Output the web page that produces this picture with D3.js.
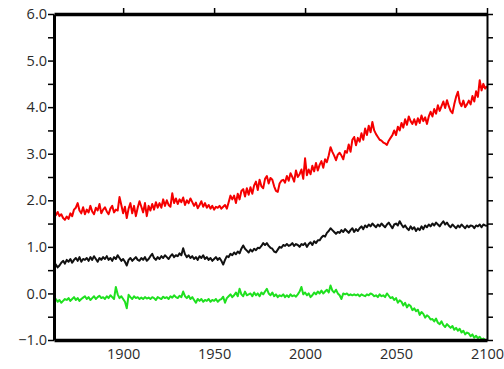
<!DOCTYPE html>
<html>
<head>
<meta charset="utf-8">
<script src="https://cdn.jsdelivr.net/npm/d3@7"></script>
<style>
  body { margin: 0; background: #fff; }
  svg { display: block; }
  .axis text { font-family: "Open Sans", sans-serif; font-size: 14.5px; fill: #2a2a2a; }
</style>
</head>
<body>
<svg id="chart"></svg>
<script>
"use strict"

// years 1862..2100, one value per year
const startYear = 1862
const endYear = 2100

const redSeries = [
  1.72,1.68,1.75,1.66,1.70,1.62,1.58,1.65,
  1.60,1.72,1.66,1.80,1.84,1.94,1.78,1.72,1.85,1.70,
  1.80,1.74,1.88,1.76,1.70,1.84,1.78,1.92,1.72,1.80,
  1.85,1.76,1.70,1.82,1.88,1.74,1.80,1.78,2.07,1.90,
  1.72,1.86,1.62,1.82,1.94,1.72,1.88,1.66,1.84,1.98,
  1.86,1.74,1.94,1.66,1.88,1.78,1.92,1.80,1.96,1.84,
  1.94,1.84,2.02,1.88,2.00,1.90,1.86,2.15,1.94,2.04,
  1.92,2.02,1.96,2.06,1.90,2.00,1.94,2.04,1.96,1.88,
  1.95,1.83,1.90,1.98,1.86,1.94,1.84,1.90,1.82,1.88,
  1.80,1.86,1.84,1.88,1.82,1.86,1.90,1.82,1.96,2.10,
  2.02,2.10,1.94,2.14,2.02,2.20,2.24,2.08,2.26,2.12,
  2.28,2.14,2.32,2.40,2.22,2.44,2.30,2.26,2.46,2.52,
  2.36,2.48,2.44,2.30,2.20,2.18,2.36,2.42,2.44,2.38,
  2.52,2.42,2.58,2.50,2.40,2.64,2.50,2.56,2.66,2.46,
  2.90,2.54,2.66,2.56,2.74,2.62,2.80,2.64,2.76,2.84,
  2.70,2.88,2.82,2.96,3.14,3.04,2.96,2.86,2.98,3.02,
  2.96,2.88,3.06,3.02,3.20,3.04,3.30,3.36,3.18,3.34,
  3.26,3.44,3.30,3.54,3.40,3.60,3.46,3.68,3.50,3.42,
  3.36,3.30,3.28,3.24,3.22,3.19,3.28,3.34,3.40,3.50,
  3.40,3.58,3.50,3.66,3.56,3.74,3.62,3.80,3.70,3.64,
  3.74,3.62,3.76,3.66,3.82,3.70,3.78,3.64,3.80,3.90,
  3.80,3.96,3.86,4.04,3.92,4.02,4.12,3.98,4.15,4.02,
  3.92,3.87,4.06,4.22,4.33,4.10,4.02,4.14,4.00,4.06,
  4.14,4.06,4.24,4.12,4.34,4.22,4.58,4.36,4.50,4.40,
  4.45
]

const blackSeries = [
  0.67,0.62,0.56,0.60,0.66,0.70,0.64,0.72,
  0.68,0.74,0.66,0.72,0.76,0.70,0.78,0.68,0.74,0.72,
  0.76,0.70,0.78,0.72,0.80,0.74,0.68,0.76,0.72,0.78,
  0.74,0.80,0.72,0.76,0.70,0.78,0.74,0.82,0.76,0.70,
  0.74,0.68,0.60,0.72,0.76,0.70,0.74,0.78,0.72,0.70,
  0.76,0.72,0.78,0.70,0.74,0.80,0.85,0.76,0.72,0.78,
  0.74,0.80,0.76,0.82,0.78,0.74,0.80,0.84,0.78,0.82,
  0.80,0.86,0.82,0.97,0.84,0.78,0.82,0.76,0.80,0.74,
  0.78,0.72,0.80,0.76,0.82,0.74,0.78,0.72,0.76,0.70,
  0.74,0.78,0.72,0.76,0.70,0.62,0.72,0.80,0.78,0.85,
  0.82,0.88,0.84,0.90,0.86,0.96,1.03,0.96,0.92,0.88,
  0.94,0.90,0.96,0.93,0.98,0.97,1.02,1.08,1.04,1.08,
  1.02,0.98,0.96,0.90,0.88,0.94,1.00,0.98,1.04,1.02,
  1.06,1.02,1.04,1.08,1.02,1.06,1.04,1.00,1.06,1.04,
  1.08,1.00,1.06,1.10,1.04,1.12,1.08,1.14,1.14,1.20,
  1.24,1.22,1.30,1.34,1.40,1.36,1.32,1.28,1.32,1.30,
  1.36,1.32,1.38,1.34,1.30,1.36,1.40,1.32,1.38,1.34,
  1.40,1.44,1.38,1.46,1.42,1.48,1.44,1.50,1.46,1.42,
  1.48,1.44,1.50,1.46,1.42,1.48,1.52,1.46,1.40,1.48,
  1.50,1.46,1.55,1.48,1.42,1.46,1.40,1.36,1.44,1.38,
  1.42,1.34,1.40,1.36,1.44,1.38,1.46,1.42,1.48,1.44,
  1.50,1.46,1.52,1.48,1.44,1.50,1.55,1.48,1.52,1.46,
  1.42,1.48,1.44,1.40,1.46,1.42,1.48,1.44,1.40,1.46,
  1.42,1.46,1.45,1.40,1.46,1.44,1.48,1.42,1.48,1.46,
  1.45
]

const greenSeries = [
  -0.15,-0.12,-0.18,-0.14,-0.20,-0.16,-0.12,-0.14,
  -0.10,-0.16,-0.12,-0.08,-0.14,-0.10,-0.16,-0.12,-0.09,-0.06,
  -0.12,-0.08,-0.14,-0.10,-0.06,-0.12,-0.08,-0.05,-0.10,-0.08,
  -0.12,-0.06,-0.10,-0.04,-0.08,-0.12,0.14,-0.02,-0.10,-0.06,
  -0.12,-0.18,-0.32,-0.03,-0.08,-0.12,-0.06,-0.10,-0.08,-0.12,
  -0.09,-0.12,-0.08,-0.11,-0.09,-0.12,-0.08,-0.10,-0.14,-0.08,
  -0.10,-0.12,-0.07,-0.10,-0.08,-0.12,-0.06,-0.09,-0.04,-0.08,
  -0.10,-0.05,-0.08,0.04,-0.06,-0.10,-0.05,-0.12,-0.08,-0.14,
  -0.20,-0.12,-0.16,-0.12,-0.18,-0.14,-0.16,-0.12,-0.18,-0.14,
  -0.16,-0.12,-0.18,-0.14,-0.12,-0.07,-0.20,-0.10,-0.06,-0.02,
  -0.08,-0.04,0.02,-0.06,0.10,-0.02,-0.06,0.04,-0.04,-0.02,
  0.00,-0.06,0.02,-0.04,0.00,-0.06,0.02,-0.02,0.04,0.10,
  0.00,-0.04,0.02,-0.06,-0.02,-0.08,-0.04,-0.06,-0.02,-0.08,
  -0.04,-0.08,-0.02,-0.06,-0.04,-0.07,-0.02,0.04,0.14,-0.02,
  0.02,-0.04,0.00,-0.08,-0.04,0.02,-0.02,0.04,0.00,0.06,
  0.00,0.04,0.08,0.02,0.17,0.06,0.02,0.08,0.00,-0.04,
  -0.12,0.00,-0.02,0.00,-0.04,-0.02,-0.04,-0.02,-0.04,-0.02,
  -0.06,-0.02,-0.04,-0.06,-0.02,-0.04,0.00,-0.02,-0.06,-0.04,
  -0.08,-0.02,-0.06,-0.04,-0.08,0.00,-0.05,-0.10,-0.08,-0.14,
  -0.10,-0.20,-0.15,-0.18,-0.26,-0.20,-0.30,-0.24,-0.27,-0.36,
  -0.32,-0.38,-0.35,-0.46,-0.40,-0.44,-0.52,-0.47,-0.50,-0.56,
  -0.55,-0.60,-0.54,-0.63,-0.66,-0.60,-0.68,-0.72,-0.66,-0.70,
  -0.74,-0.70,-0.78,-0.74,-0.80,-0.76,-0.84,-0.80,-0.88,-0.84,
  -0.86,-0.92,-0.88,-0.95,-0.91,-0.96,-0.93,-0.99,-0.97,-1.00,
  -1.02
]

const xTickYears = [1900, 1950, 2000, 2050, 2100]
const yTicks = [-1, -0.5, 0, 0.5, 1, 1.5, 2, 2.5, 3, 3.5, 4, 4.5, 5, 5.5, 6]

const series = [
  {name: "red", values: redSeries, color: "#f50000"},
  {name: "black", values: blackSeries, color: "#111"},
  {name: "green", values: greenSeries, color: "#1fe01f"}
]

let width = 504
let height = 369
let margin = {top: 14, right: 17, bottom: 29, left: 54}

let svg = d3.select("#chart")
  .attr("width", width)
  .attr("height", height)

let x = d3.scaleLinear()
  .domain([startYear, endYear])
  .range([margin.left, width - margin.right])

let y = d3.scaleLinear()
  .domain([-1, 6])
  .range([height - margin.bottom, margin.top])

let line = d3.line()
  .x((d, i) => x(startYear + i))
  .y(d => y(d))

/* data lines */
svg.append("g")
  .selectAll("path")
  .data(series)
  .join("path")
  .attr("fill", "none")
  .attr("stroke", d => d.color)
  .attr("stroke-width", 2)
  .attr("stroke-linejoin", "round")
  .attr("d", d => line(d.values))

/* axes */
let fmt = d3.format(".1f")

let leftAxis = svg.append("g")
  .attr("class", "axis")
  .attr("transform", `translate(${margin.left},0)`)
  .call(d3.axisLeft(y).tickValues(yTicks).tickSize(6).tickSizeOuter(0)
    .tickFormat(d => Number.isInteger(d) ? fmt(d) : ""))
leftAxis.select(".domain").attr("stroke-width", 3)
leftAxis.selectAll(".tick line").attr("stroke-width", 1.5)
leftAxis.selectAll(".tick text").attr("x", -7)

let rightAxis = svg.append("g")
  .attr("class", "axis")
  .attr("transform", `translate(${width - margin.right},0)`)
  .call(d3.axisRight(y).tickValues(yTicks).tickSize(6).tickSizeOuter(0).tickFormat(""))
rightAxis.select(".domain").attr("stroke-width", 2)
rightAxis.selectAll(".tick line").attr("stroke-width", 1.5)

let topAxis = svg.append("g")
  .attr("class", "axis")
  .attr("transform", `translate(0,${margin.top})`)
  .call(d3.axisTop(x).tickValues(xTickYears).tickSize(6).tickSizeOuter(0).tickFormat(""))
topAxis.select(".domain").attr("stroke-width", 3.5)
topAxis.selectAll(".tick line").attr("stroke-width", 1.5)

let bottomAxis = svg.append("g")
  .attr("class", "axis")
  .attr("transform", `translate(0,${height - margin.bottom})`)
  .call(d3.axisBottom(x).tickValues(xTickYears).tickSize(0).tickSizeOuter(0).tickFormat(d3.format("d")))
bottomAxis.select(".domain").attr("stroke-width", 3.5)
bottomAxis.selectAll(".tick text").attr("y", 9)
</script>
</body>
</html>
